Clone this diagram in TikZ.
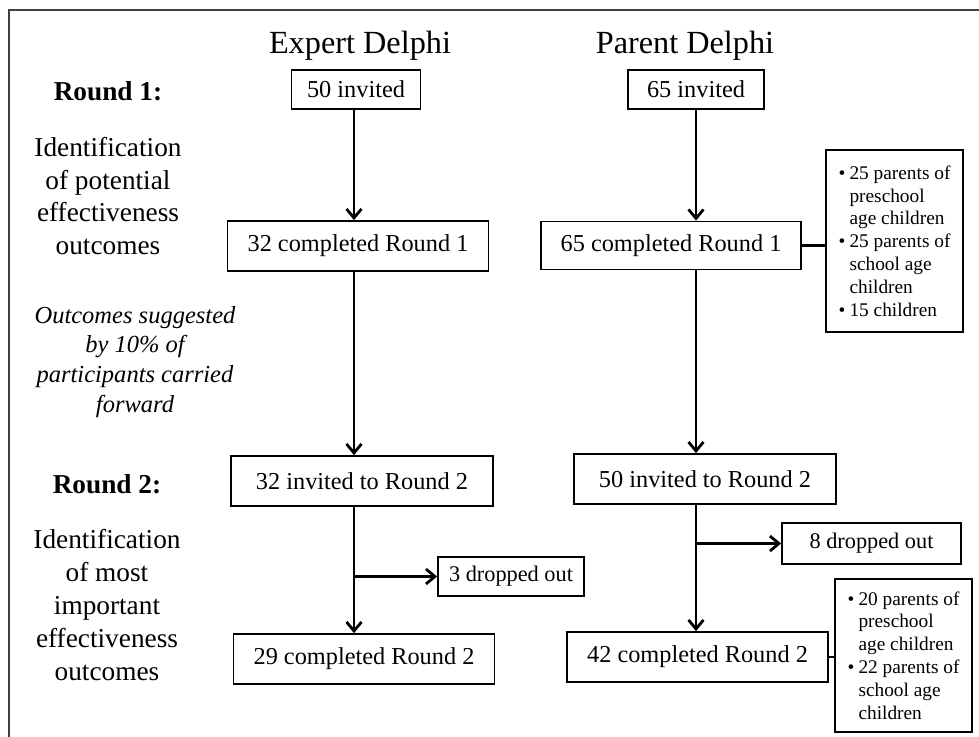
\documentclass[tikz,border=0pt]{standalone}
\usepackage{fontspec}
\setmainfont{Liberation Serif}
\usetikzlibrary{arrows.meta,calc}
\newcommand{\boxfont}{\fontsize{12.2}{14}\selectfont}
\newcommand{\dropfont}{\fontsize{11.2}{13}\selectfont}
\newcommand{\infofont}{\fontsize{9.7}{11.45}\selectfont}
\newcommand{\titlefont}{\fontsize{16.2}{19}\selectfont}
\newcommand{\stagefont}{\fontsize{13.7}{16.5}\selectfont}
\newcommand{\notefont}{\fontsize{12.3}{15}\selectfont\itshape}
\newcommand{\bul}{\makebox[5.5bp][l]{\textbullet}}
\newcommand{\ind}{\hspace*{5.5bp}}
\tikzstyle{box}=[draw=black,line width=0.9pt,inner sep=0pt,font=\boxfont]
\tikzstyle{drop}=[box,font=\dropfont]
\tikzstyle{info}=[box,align=left,font=\infofont]
\tikzstyle{title}=[font=\titlefont]
\tikzstyle{round}=[font=\stagefont\bfseries]
\tikzstyle{stage}=[align=center,font=\stagefont]
\tikzstyle{note}=[align=center,font=\notefont]
\tikzstyle{flow}=[line width=1.4pt,-{Straight Barb[length=4.5bp,width=7.5bp]}]
\tikzstyle{link}=[line width=1.4pt]
\tikzstyle{frame}=[draw=black!75,line width=1pt]
\tikzstyle{none}=[]

\begin{document}
\begin{tikzpicture}[x=0.5bp,y=-0.5bp]
    \useasboundingbox (0,0) rectangle (979,737);
    \draw [style=frame] (9,760) -- (9,10) -- (1000,10);
    \coordinate (e) at (354,0);
    \coordinate (p) at (696,0);
            \node [style=title,anchor=base] (0) at (360,53) {Expert Delphi};
            \node [style=title,anchor=base] (1) at (685,53) {Parent Delphi};
            \node [style=round,anchor=base] (2) at (108,100) {Round 1:};
            \node [style=stage] (3) at (108,196) {Identification\\of potential\\effectiveness\\outcomes};
            \node [style=note] (4) at (135,362) {Outcomes suggested\\by 10\% of\\participants carried\\forward};
            \node [style=round,anchor=base] (5) at (107,493) {Round 2:};
            \node [style=stage] (6) at (107,605) {Identification\\of most\\important\\effectiveness\\outcomes};
            \node [style=box,minimum width=64.5bp,minimum height=19.5bp] (7) at (356,89.5) {50 invited};
            \node [style=box,minimum width=130.5bp,minimum height=25bp] (8) at (358,246) {32 completed Round 1};
            \node [style=box,minimum width=131bp,minimum height=25bp] (9) at (362,481) {32 invited to Round 2};
            \node [style=drop,minimum width=73bp,minimum height=19.5bp] (10) at (511,576.5) {3 dropped out};
            \node [style=box,minimum width=130.5bp,minimum height=25bp] (11) at (364,659) {29 completed Round 2};
            \node [style=box,minimum width=68bp,minimum height=19.5bp] (12) at (696,89.5) {65 invited};
            \node [style=box,minimum width=130bp,minimum height=24bp] (13) at (671,245.5) {65 completed Round 1};
            \node [style=info,minimum width=68.5bp,minimum height=91bp] (14) at (894.5,241)
                {\bul 25 parents of\\\ind preschool\\\ind age children\\\bul 25 parents of\\\ind school age\\\ind children\\\bul 15 children};
            \node [style=box,minimum width=131bp,minimum height=25bp] (15) at (705,479) {50 invited to Round 2};
            \node [style=drop,minimum width=89.5bp,minimum height=20.5bp] (16) at (871.5,543.5) {8 dropped out};
            \node [style=box,minimum width=130.5bp,minimum height=25bp] (17) at (697.5,657) {42 completed Round 2};
            \node [style=info,minimum width=68.5bp,minimum height=76.5bp] (18) at (903.5,655.5)
                {\bul 20 parents of\\\ind preschool\\\ind age children\\\bul 22 parents of\\\ind school age\\\ind children};
            \draw [style=flow] (7.south -| e) to (8.north -| e);
            \draw [style=flow] (8.south -| e) to (9.north -| e);
            \draw [style=flow] (9.south -| e) to (11.north -| e);
            \draw [style=flow] (10.west -| e) to (10.west);
            \draw [style=flow] (12.south -| p) to (13.north -| p);
            \draw [style=flow] (13.south -| p) to (15.north -| p);
            \draw [style=flow] (15.south -| p) to (17.north -| p);
            \draw [style=flow] (16.west -| p) to (16.west);
            \draw [style=link] (13.east) to (13.east -| 14.west);
            \draw [style=link] (17.east) to (17.east -| 18.west);
    \end{tikzpicture}
\end{document}
